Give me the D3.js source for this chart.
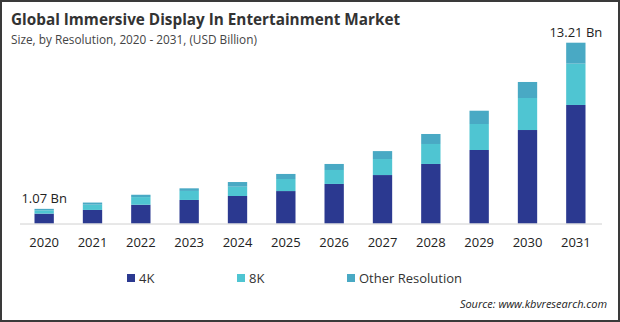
<!DOCTYPE html>
<html>
<head>
<meta charset="utf-8">
<script src="https://cdn.jsdelivr.net/npm/d3@7"></script>
<style>
  body { margin: 0; background: #fff; }
  svg { display: block; font-family: "Open Sans", "Noto Sans", sans-serif; }
</style>
</head>
<body>
<div id="chart"></div>
<script>
const width = 620;
const height = 322;

// Data (USD Billion)
const years = ["2020", "2021", "2022", "2023", "2024", "2025", "2026", "2027", "2028", "2029", "2030", "2031"];
const seriesNames = ["4K", "8K", "Other Resolution"];
const k4 = [0.72, 0.99, 1.37, 1.72, 2.01, 2.37, 2.89, 3.54, 4.35, 5.37, 6.83, 8.66];
const k8 = [0.24, 0.39, 0.56, 0.66, 0.68, 0.88, 1.02, 1.17, 1.46, 1.90, 2.34, 3.02];
const other = [0.11, 0.15, 0.17, 0.19, 0.34, 0.37, 0.44, 0.58, 0.73, 0.97, 1.17, 1.53];
const endLabels = [{ year: "2020", text: "1.07 Bn" }, { year: "2031", text: "13.21 Bn" }];
const colors = ["#2b3990", "#4fc5d2", "#49a9c4"];

const rows = years.map((y, i) => ({ year: y, "4K": k4[i], "8K": k8[i], "Other Resolution": other[i] }));

const svg = d3.select("#chart")
    .append("svg")
    .attr("width", width)
    .attr("height", height);

// Outer frame
svg.append("rect")
    .attr("x", 1).attr("y", 1)
    .attr("width", width - 2).attr("height", height - 2)
    .attr("fill", "#fff")
    .attr("stroke", "#3a3a3a")
    .attr("stroke-width", 2);

// Title
svg.append("text")
    .attr("x", 11).attr("y", 25)
    .attr("fill", "#333")
    .style("font-size", "15.3px")
    .style("font-weight", "bold")
    .text("Global Immersive Display In Entertainment Market");

svg.append("text")
    .attr("x", 11).attr("y", 44)
    .attr("fill", "#444")
    .style("font-size", "11.8px")
    .text("Size, by Resolution, 2020 - 2031, (USD Billion)");

// Scales
const baseY = 223.5;
const xScale = d3.scaleBand()
    .domain(years)
    .range([20, 600])
    .paddingInner(0.6)
    .paddingOuter(0.3);

const yScale = d3.scaleLinear()
    .domain([0, 13.21])
    .range([baseY, 42.7]);

const colorScale = d3.scaleOrdinal()
    .domain(seriesNames)
    .range(colors);

const stacked = d3.stack().keys(seriesNames)(rows);

// Bars
svg.append("g")
    .selectAll("g")
    .data(stacked)
    .enter()
    .append("g")
    .attr("fill", d => colorScale(d.key))
    .selectAll("rect")
    .data(d => d)
    .enter()
    .append("rect")
    .attr("x", d => xScale(d.data.year))
    .attr("width", xScale.bandwidth())
    .attr("y", d => yScale(d[1]))
    .attr("height", d => yScale(d[0]) - yScale(d[1]));

// Baseline
svg.append("line")
    .attr("x1", 20).attr("x2", 602)
    .attr("y1", baseY + 0.5).attr("y2", baseY + 0.5)
    .attr("stroke", "#d0d0d0")
    .attr("stroke-width", 1);

// X axis labels
const xAxis = d3.axisBottom(xScale).tickSize(0).tickPadding(14);
const axisG = svg.append("g")
    .attr("transform", `translate(0,${baseY})`)
    .call(xAxis);
axisG.select(".domain").remove();
axisG.selectAll("text")
    .attr("fill", "#222")
    .style("font-size", "13px")
    .style("font-family", "\"Open Sans\", sans-serif");

// Total labels
const totals = new Map(rows.map(r => [r.year, r["4K"] + r["8K"] + r["Other Resolution"]]));
svg.selectAll(".total")
    .data(endLabels)
    .enter()
    .append("text")
    .attr("class", "total")
    .attr("x", d => xScale(d.year) + xScale.bandwidth() / 2)
    .attr("y", d => yScale(totals.get(d.year)) - 6)
    .attr("text-anchor", "middle")
    .attr("fill", "#222")
    .style("font-size", "13px")
    .text(d => d.text);

// Legend
const legendX = [127, 237, 347];
const legend = svg.selectAll(".legend")
    .data(seriesNames)
    .enter()
    .append("g")
    .attr("class", "legend")
    .attr("transform", (d, i) => `translate(${legendX[i]},274)`);

legend.append("rect")
    .attr("width", 8).attr("height", 8)
    .attr("fill", d => colorScale(d));

legend.append("text")
    .attr("x", 12).attr("y", 8.5)
    .attr("fill", "#333")
    .style("font-size", "13px")
    .text(d => d);

// Source
svg.append("text")
    .attr("x", 607).attr("y", 308)
    .attr("text-anchor", "end")
    .attr("fill", "#222")
    .style("font-size", "11px")
    .style("font-style", "italic")
    .text("Source: www.kbvresearch.com");
</script>
</body>
</html>
